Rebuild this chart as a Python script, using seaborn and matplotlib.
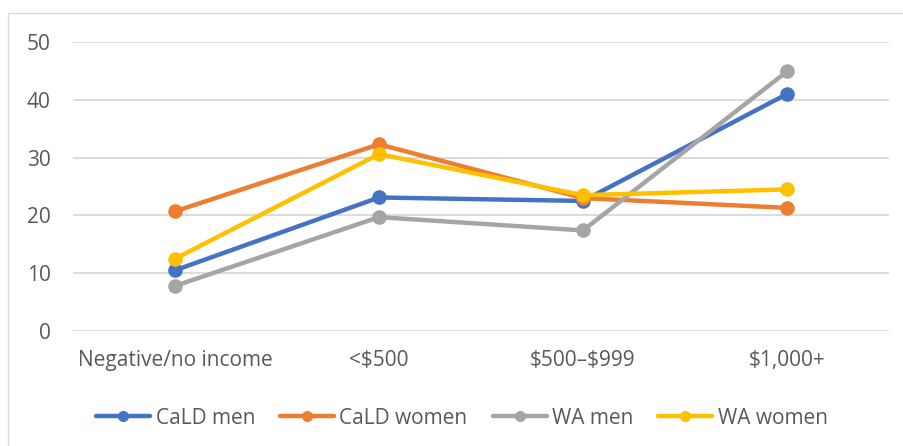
import matplotlib
matplotlib.use("Agg")
import matplotlib.pyplot as plt
import seaborn as sns
import pandas as pd
from matplotlib.patches import Rectangle

categories = ["Negative/no income", "<$500", "$500\u2013$999", "$1,000+"]
series = ["CaLD men", "CaLD women", "WA men", "WA women"]
cald_men = [10.5, 23.1, 22.5, 41.0]
cald_women = [20.7, 32.3, 23.0, 21.3]
wa_men = [7.8, 19.7, 17.4, 44.9]
wa_women = [12.5, 30.6, 23.5, 24.5]
colors = ["#4472C4", "#ED7D31", "#A5A5A5", "#FFC000"]
yticks = [0, 10, 20, 30, 40, 50]

rows = []
for name, vals in zip(series, [cald_men, cald_women, wa_men, wa_women]):
    for c, v in zip(categories, vals):
        rows.append({"cat": c, "value": v, "series": name})
df = pd.DataFrame(rows)

sns.set_theme(style="white")
plt.rcParams["font.family"] = ["Open Sans", "DejaVu Sans"]
plt.rcParams["text.parse_math"] = False
text_color = "#595959"
fs = 15

fig = plt.figure(figsize=(9.04, 4.46), dpi=100)
ax = fig.add_axes([73 / 904, 1 - 331 / 446, (889 - 73) / 904, (331 - 42) / 446])

sns.lineplot(data=df, x="cat", y="value", hue="series", palette=colors,
             marker="o", markersize=10.5, markeredgewidth=0, linewidth=3.2,
             sort=False, ax=ax, legend=True)

ax.set_xlim(-0.5, 3.5)
ax.set_ylim(0, 50)
ax.set_yticks(yticks)
ax.yaxis.grid(True, color="#D9D9D9", linewidth=1.3)
ax.set_axisbelow(True)
for s in ax.spines.values():
    s.set_visible(False)
ax.set_xlabel("")
ax.set_ylabel("")
ax.tick_params(axis="both", length=0, labelsize=fs, colors=text_color)
ax.tick_params(axis="y", pad=16)
ax.tick_params(axis="x", pad=14)

handles, labels = ax.get_legend_handles_labels()
ax.get_legend().remove()
leg = fig.legend(handles, labels, loc="center", bbox_to_anchor=(0.511, 1 - 418 / 446),
                 ncol=4, frameon=False, fontsize=fs, labelcolor=text_color,
                 handlelength=2.6, handletextpad=0.25, columnspacing=1.2)
for h in leg.legend_handles:
    h.set_markersize(8)

fig.patches.append(Rectangle((8 / 904, -0.05), 1.0, 1 - 13 / 446 + 0.05,
                             transform=fig.transFigure, fill=False,
                             edgecolor="#D9D9D9", linewidth=1))

fig.savefig("out.png", dpi=100)
